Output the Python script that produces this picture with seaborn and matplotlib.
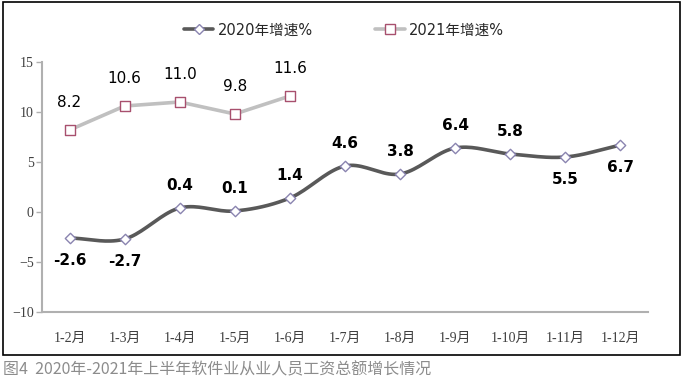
import numpy as np
import pandas as pd
import matplotlib
matplotlib.use("Agg")
import matplotlib.pyplot as plt
import seaborn as sns
from matplotlib.lines import Line2D
from matplotlib.patches import Rectangle

# data
months = ["1-2月", "1-3月", "1-4月", "1-5月", "1-6月", "1-7月", "1-8月",
          "1-9月", "1-10月", "1-11月", "1-12月"]
growth_2020 = [-2.6, -2.7, 0.4, 0.1, 1.4, 4.6, 3.8, 6.4, 5.8, 5.5, 6.7]
growth_2021 = [8.2, 10.6, 11.0, 9.8, 11.6]
# label placement: +1 above, -1 below
pos_2020 = [-1, -1, 1, 1, 1, 1, 1, 1, 1, -1, -1]
caption = "图4  2020年-2021年上半年软件业从业人员工资总额增长情况"

sns.set_theme(style="white")
plt.rcParams['font.family'] = ['DejaVu Sans', 'Noto Sans CJK SC']


def smooth(y, n=20):
    """Catmull-Rom curve through the points (for drawing only)"""
    y = np.asarray(y, dtype=float)
    x = np.arange(len(y), dtype=float)
    p = np.concatenate([[2 * y[0] - y[1]], y, [2 * y[-1] - y[-2]]])
    xs, ys = [], []
    for i in range(len(y) - 1):
        p0, p1, p2, p3 = p[i], p[i + 1], p[i + 2], p[i + 3]
        t = np.linspace(0, 1, n, endpoint=False)
        yy = 0.5 * (2 * p1 + (-p0 + p2) * t + (2 * p0 - 5 * p1 + 4 * p2 - p3) * t ** 2
                    + (-p0 + 3 * p1 - 3 * p2 + p3) * t ** 3)
        xs.append(x[i] + t)
        ys.append(yy)
    xs.append([x[-1]])
    ys.append([y[-1]])
    return np.concatenate(xs), np.concatenate(ys)


fig = plt.figure(figsize=(6.84, 3.82), dpi=100)
ax = fig.add_axes([42 / 684, 1 - 312 / 382, 606 / 684, 250 / 382])

c20_line, c20_mk = "#595959", "#8a84b0"
c21_line, c21_mk = "#c0c0c0", "#a8506e"

x20 = np.arange(len(growth_2020))
x21 = np.arange(len(growth_2021))

sx, sy = smooth(growth_2020)
sns.lineplot(x=sx, y=sy, ax=ax, color=c20_line, lw=2.6, sort=False)
sns.lineplot(x=x21, y=growth_2021, ax=ax, color=c21_line, lw=2.6, sort=False)

ax.scatter(x20, growth_2020, marker="D", s=28, facecolor="white",
           edgecolor=c20_mk, linewidth=1.0, zorder=5)
ax.scatter(x21, growth_2021, marker="s", s=55, facecolor="white",
           edgecolor=c21_mk, linewidth=1.0, zorder=5)

for i, v in enumerate(growth_2020):
    off = 16 if pos_2020[i] > 0 else -16
    ax.annotate(f"{v:.1f}", (i, v), xytext=(0, off), textcoords="offset points",
                ha="center", va="center", fontsize=11, fontweight="bold", color="black")
for i, v in enumerate(growth_2021):
    ax.annotate(f"{v:.1f}", (i, v), xytext=(0, 20), textcoords="offset points",
                ha="center", va="center", fontsize=11, color="black")

ax.set_xlim(-0.5, len(months) - 0.5)
ax.set_ylim(-10, 15)
ax.set_yticks([-10, -5, 0, 5, 10, 15])
ax.set_yticklabels(["−10", "−5", "0", "5", "10", "15"])
ax.set_xticks(x20)
ax.set_xticklabels(months)
for lab in ax.get_xticklabels() + ax.get_yticklabels():
    lab.set_family(['Liberation Serif', 'Noto Sans CJK SC'])
    lab.set_fontsize(10)
    lab.set_color("#404040")
ax.tick_params(axis="y", left=True, length=4, width=1, color="#b0b0b0", pad=2)
ax.tick_params(axis="x", bottom=False, pad=8)
for s in ["top", "right"]:
    ax.spines[s].set_visible(False)
for s in ["left", "bottom"]:
    ax.spines[s].set_color("#b0b0b0")
    ax.spines[s].set_linewidth(1.5)

handles = [
    Line2D([], [], color=c20_line, lw=2.6, marker="D", markersize=5,
           markerfacecolor="white", markeredgecolor=c20_mk),
    Line2D([], [], color=c21_line, lw=2.6, marker="s", markersize=7,
           markerfacecolor="white", markeredgecolor=c21_mk),
]
fig.legend(handles, ["2020年增速%", "2021年增速%"], loc="center",
           bbox_to_anchor=(0.503, 1 - 30 / 382), ncol=2, frameon=False,
           fontsize=10.5, handlelength=2.0, columnspacing=4.3, handletextpad=0.3)

fig.patches.append(Rectangle((3 / 684, 1 - 355 / 382), 677 / 684, 353 / 382,
                             transform=fig.transFigure, fill=False,
                             edgecolor="black", lw=1.2))
fig.text(3 / 684, 1 - 370 / 382, caption, ha="left", va="center",
         fontsize=11.5, color="#8c8c8c", family=['Noto Sans CJK SC', 'DejaVu Sans'])

fig.savefig("out.png", dpi=100)
